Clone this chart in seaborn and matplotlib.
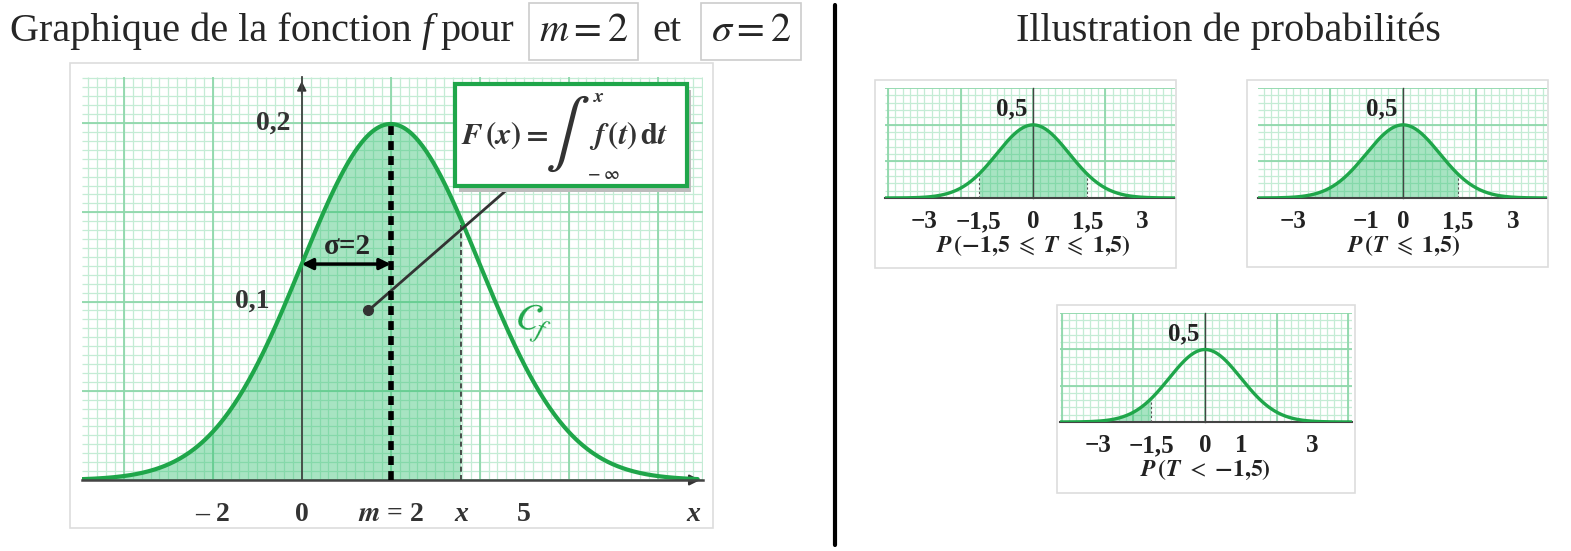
import numpy as np
import matplotlib
matplotlib.use("Agg")
import matplotlib.pyplot as plt
import seaborn as sns
from matplotlib.patches import Rectangle
from matplotlib.ticker import MultipleLocator

# --- données ---
m_val = 2
sigma_val = 2
x_borne = 3.58                 # position du "x" (borne de l'intégrale)
point_F = (1.5, 0.095)         # point de départ du trait vers l'encadré
fin_trait = (4.72, 0.165)
boite_F = (3.44, 0.165, 8.66, 0.222)

main_tick_pos = [-2, 0, 2, 3.58, 5, 8.8]
main_tick_lab = ["– 2", "0", r"$\mathbfit{m}$ = 2", "x", "5", "x"]
main_ytick_pos = [0.05, 0.1, 0.15, 0.2]
main_ylab_pos = [0.1, 0.2]
main_ylab_x = [-0.72, -0.25]
main_ylab = ["0,1", "0,2"]

small_xlims = [(-4.09, 3.92), (-3.95, 3.92), (-4.05, 4.1)]
small_ticks = [[-3, -1.5, 0, 1.5, 3], [-3, -1, 0, 1.5, 3], [-3, -1.5, 0, 1, 3]]
small_labels = [["−3", "−1,5", "0", "1,5", "3"],
                ["−3", "−1", "0", "1,5", "3"],
                ["−3", "−1,5", "0", "1", "3"]]
small_fill = [(-1.5, 1.5), (-5, 1.5), (-5, -1.5)]
small_captions = [r"$\mathbfit{P}\,\mathbf{(-1{,}5}\ \leqslant\ \mathbfit{T}\ \leqslant\ \mathbf{1{,}5)}$",
                  r"$\mathbfit{P}\,\mathbf{(}\mathbfit{T}\ \leqslant\ \mathbf{1{,}5)}$",
                  r"$\mathbfit{P}\,\mathbf{(}\mathbfit{T}\ <\ \mathbf{-1{,}5)}$"]
# zones en pixels : (gauche, haut, droite, bas) de la grille, puis du cadre
small_zones = [(885, 88, 1175, 198), (1258, 88, 1547, 198), (1060, 313, 1352, 422)]
small_frames = [(875, 80, 1176, 268), (1247, 80, 1548, 267), (1057, 305, 1355, 493)]

VERT = "#1fa64a"
GRID_MAJ = "#8fd8ab"
GRID_MIN = "#c4ecd5"
FILL = "#2fbf6f"

sns.set_style("white")
plt.rcParams["font.family"] = ["Liberation Serif", "DejaVu Serif"]
plt.rcParams["mathtext.fontset"] = "stix"

W, H = 1571, 551
fig = plt.figure(figsize=(W / 100, H / 100), dpi=100)
rend = fig.canvas.get_renderer()


def zone(l, t, r, b):
    return [l / W, 1 - b / H, (r - l) / W, (b - t) / H]


def cadre(l, t, r, b):
    fig.add_artist(Rectangle((l / W, 1 - b / H), (r - l) / W, (b - t) / H,
                             transform=fig.transFigure, fill=False, ec="#dddddd", lw=1.2))


def gauss(x, m, s):
    return np.exp(-0.5 * ((x - m) / s) ** 2) / (s * np.sqrt(2 * np.pi))


def quadrillage(ax, dx, dy, nx, ny):
    x0, x1 = ax.get_xlim()
    y0, y1 = ax.get_ylim()
    fx, fy = dx / nx, dy / ny
    ax.vlines(np.arange(np.ceil(x0 / fx) * fx, x1, fx), y0, y1, color=GRID_MIN, lw=0.9, zorder=0)
    ax.hlines(np.arange(np.ceil(y0 / fy) * fy, y1, fy), x0, x1, color=GRID_MIN, lw=0.9, zorder=0)
    ax.vlines(np.arange(np.ceil(x0 / dx) * dx, x1, dx), y0, y1, color=GRID_MAJ, lw=1.3, zorder=0)
    ax.hlines(np.arange(np.ceil(y0 / dy) * dy, y1 + 1e-9, dy), x0, x1, color=GRID_MAJ, lw=1.3, zorder=0)


# ---------------- graphique principal ----------------
cadre(70, 63, 713, 528)
ax = fig.add_axes(zone(82, 77, 703, 480))
ax.set_xlim(-4.94, 9.02)
ax.set_ylim(0, 0.2258)
quadrillage(ax, 2, 0.05, 10, 10)

xs = np.linspace(-4.94, 8.9, 500)
ys = gauss(xs, m_val, sigma_val)
sns.lineplot(x=xs, y=ys, ax=ax, color=VERT, lw=3, zorder=4)
mask = xs <= x_borne
ax.fill_between(xs[mask], 0, ys[mask], color=FILL, alpha=0.42, lw=0, zorder=1)

ax.vlines(m_val, 0, gauss(m_val, m_val, sigma_val), color="black", lw=4,
          linestyles=(0, (1.6, 1.1)), zorder=6)
ax.vlines(x_borne, 0, gauss(x_borne, m_val, sigma_val), color="#333333", lw=1.2,
          linestyles=(0, (3, 2)), zorder=3)

y_sig = gauss(m_val - sigma_val, m_val, sigma_val)
ax.annotate("", xy=(0, y_sig), xytext=(m_val, y_sig),
            arrowprops=dict(arrowstyle="<|-|>", color="black", lw=2.5, mutation_scale=16,
                            shrinkA=0, shrinkB=0), zorder=7)
ax.text(1.02, 0.131, "σ=2", fontsize=21, fontweight="bold", ha="center", va="center", zorder=7)

ax.plot([point_F[0], fin_trait[0]], [point_F[1], fin_trait[1]], color="#333333", lw=2, zorder=5)
ax.plot(point_F[0], point_F[1], "o", color="#333333", ms=7, zorder=5)

bx0, by0, bx1, by1 = boite_F
ax.add_patch(Rectangle((bx0 + 0.09, by0 - 0.0035), bx1 - bx0, by1 - by0, fc="#bdbdbd", ec="none", zorder=6))
ax.add_patch(Rectangle((bx0, by0), bx1 - bx0, by1 - by0, fc="white", ec=VERT, lw=3, zorder=7))
encre = "#333333"
ax.text(5.55, 0.1885, r"$\mathbfit{F}\,\mathbf{(}\mathbfit{x}\mathbf{)=}$",
        fontsize=22, color=encre, ha="right", va="baseline", zorder=8)
ax.text(5.97, 0.194, r"$\int$", fontsize=48, color=encre, ha="center", va="center", zorder=8)
ax.text(6.68, 0.2145, r"$\mathbfit{x}$", fontsize=14, color=encre, ha="center", va="center", zorder=8)
ax.text(6.78, 0.171, r"$\mathbf{-\ \infty}$", fontsize=12, color=encre, ha="center", va="center", zorder=8)
ax.text(6.45, 0.1885, r"$\mathbfit{f}\,\mathbf{(}\mathbfit{t}\mathbf{)\,d}\mathbfit{t}$",
        fontsize=22, color=encre, ha="left", va="baseline", zorder=8)

ax.text(5.2, 0.088, r"$\mathcal{C}_f$", color=VERT, fontsize=28, rotation=-15,
        ha="center", va="center", zorder=8)

for s in ["top", "right"]:
    ax.spines[s].set_visible(False)
ax.spines["left"].set_position(("data", 0))
ax.spines["left"].set_color("#444444")
ax.spines["left"].set_linewidth(1.3)
ax.spines["bottom"].set_color("#444444")
ax.spines["bottom"].set_linewidth(1.8)
ax.spines["left"].set_zorder(3)
ax.spines["bottom"].set_zorder(5)

ax.set_xticks(main_tick_pos, main_tick_lab)
ax.xaxis.set_minor_locator(MultipleLocator(1))
ax.tick_params(axis="x", which="major", length=0, pad=16, labelsize=20)
ax.tick_params(axis="x", which="minor", direction="out", length=7, width=1.5, color="#555555")
for lab in ax.get_xticklabels():
    lab.set_fontweight("bold")
    lab.set_color("#333333")
    if lab.get_text() == "x":
        lab.set_fontstyle("italic")
ax.set_yticks(main_ytick_pos, [""] * len(main_ytick_pos))
ax.tick_params(axis="y", direction="inout", length=8, width=1.2, color="#555555")
for xl, yl, tl in zip(main_ylab_x, main_ylab_pos, main_ylab):
    ax.text(xl, yl, tl, fontsize=20, fontweight="bold", color="#333333", ha="right", va="center", zorder=8)
ax.annotate("", xy=(1.0, 0), xytext=(0.97, 0), xycoords="axes fraction",
            arrowprops=dict(arrowstyle="-|>", color="#333333", lw=1.5, mutation_scale=16))
ax.annotate("", xy=(0, 0.225), xytext=(0, 0.215), xycoords="data",
            arrowprops=dict(arrowstyle="-|>", color="#333333", lw=1.2, mutation_scale=14))

# ---------------- petits graphiques ----------------
for k in range(3):
    cadre(*small_frames[k])
    a = fig.add_axes(zone(*small_zones[k]))
    a.set_xlim(*small_xlims[k])
    a.set_ylim(0, 0.6)
    quadrillage(a, 2, 0.2, 10, 5)
    xx = np.linspace(small_xlims[k][0], small_xlims[k][1], 300)
    yy = gauss(xx, 0, 1)
    sns.lineplot(x=xx, y=yy, ax=a, color=VERT, lw=2.4, zorder=4)
    lo, hi = small_fill[k]
    mk = (xx >= lo) & (xx <= hi)
    a.fill_between(xx[mk], 0, yy[mk], color=FILL, alpha=0.42, lw=0, zorder=1)
    for b in (lo, hi):
        if small_xlims[k][0] < b < small_xlims[k][1]:
            a.vlines(b, 0, gauss(b, 0, 1), color="#555555", lw=0.8, linestyles=(0, (2, 2)), zorder=3)
    for s in ["top", "right"]:
        a.spines[s].set_visible(False)
    a.spines["left"].set_position(("data", 0))
    a.spines["left"].set_color("#444444")
    a.spines["left"].set_linewidth(1.0)
    a.spines["bottom"].set_color("#444444")
    a.spines["bottom"].set_linewidth(1.5)
    a.set_xticks(small_ticks[k], small_labels[k])
    a.xaxis.set_minor_locator(MultipleLocator(0.5))
    a.tick_params(axis="x", which="major", length=0, pad=9, labelsize=18)
    a.tick_params(axis="x", which="minor", direction="inout", length=4, width=0.8, color="#555555")
    a.set_yticks([0.5], ["0,5"])
    a.tick_params(axis="y", direction="inout", length=4, width=0.8, labelsize=18, pad=2)
    for lab in a.get_xticklabels() + a.get_yticklabels():
        lab.set_fontweight("bold")
        lab.set_color("#222222")
    a.text(0, -0.44, small_captions[k], transform=a.get_xaxis_transform(),
           fontsize=17, ha="center", va="center", color="#222222")

# ---------------- titres ----------------
def morceau(x_px, s, **kw):
    t = fig.text(x_px / W, 1 - 41 / H, s, va="baseline", ha="left", fontsize=29, **kw)
    return t.get_window_extent(renderer=rend).x1

x = morceau(10, "Graphique de la fonction ")
x = morceau(x, "f", fontstyle="italic")
x = morceau(x + 8, "pour")
boite = dict(boxstyle="square,pad=0.25", fc="white", ec="#cccccc", lw=1.2)
x = morceau(x + 24, r"$m=2$", bbox=boite)
x = morceau(x + 24, "et")
morceau(x + 30, r"$\sigma=2$", bbox=boite)

fig.text(1228 / W, 1 - 41 / H, "Illustration de probabilités", ha="center", va="baseline", fontsize=29)

fig.add_artist(plt.Line2D([835 / W, 835 / W], [1 - 5 / H, 1 - 545 / H], transform=fig.transFigure,
                          color="black", lw=3))

fig.savefig("out.png", dpi=100)
